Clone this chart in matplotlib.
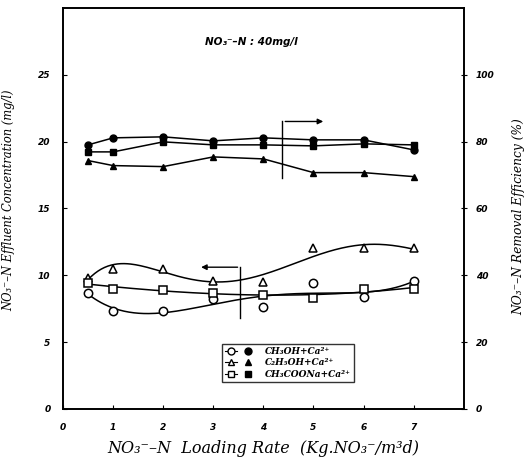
import numpy as np
import matplotlib.pyplot as plt
from matplotlib.lines import Line2D
from matplotlib.legend_handler import HandlerTuple

# loading rate (Kg.NO3-/m3 d)
rate = np.array([0.5, 1, 2, 3, 4, 5, 6, 7])

# effluent NO3--N (mg/l), left axis
eff_meoh = np.array([8.7, 7.3, 7.3, 8.2, 7.6, 9.4, 8.4, 9.6])
eff_etoh = np.array([9.8, 10.5, 10.5, 9.6, 9.5, 12.0, 12.0, 12.0])
eff_acet = np.array([9.4, 9.0, 8.9, 8.7, 8.5, 8.3, 9.0, 9.0])

# removal efficiency (%), right axis
rem_meoh = np.array([79.0, 81.1, 81.4, 80.2, 81.1, 80.5, 80.5, 77.5])
rem_etoh = np.array([74.3, 72.8, 72.5, 75.4, 74.8, 70.7, 70.7, 69.5])
rem_acet = np.array([76.9, 76.9, 79.9, 79.0, 79.0, 78.7, 79.3, 79.0])

labels = ["CH\u2083OH+Ca\u00b2\u207a", "C\u2082H\u2085OH+Ca\u00b2\u207a", "CH\u2083COONa+Ca\u00b2\u207a"]
markers = ["o", "^", "s"]

xticks = [0, 1, 2, 3, 4, 5, 6, 7]
lticks = [0, 5, 10, 15, 20, 25]
rticks = [0, 20, 40, 60, 80, 100]

# arrow brackets pointing to the axes used: (x_vert, y_top, y_bottom, x_head)
arrow_right = (4.38, 21.5, 17.3, 5.25)
arrow_left = (3.54, 10.6, 6.8, 2.7)

tickfont = dict(family="DejaVu Sans", style="italic", weight="bold", size=6.5)
labfont = dict(family="DejaVu Serif", style="italic", size=8.3)

fig = plt.figure(figsize=(5.3, 4.61), dpi=100)
ax = fig.add_axes([0.119, 0.113, 0.756, 0.87])
ax2 = ax.twinx()

xs = np.linspace(0.5, 7, 200)
degs = [4, 5, 3]
for y, m, d in zip([eff_meoh, eff_etoh, eff_acet], markers, degs):
    c = np.polyfit(rate, y, d)
    ax.plot(xs, np.polyval(c, xs), color="black", lw=1.1)
    ax.plot(rate, y, ls="none", marker=m, ms=6, mfc="white", mec="black", mew=1.1)

for y, m in zip([rem_meoh, rem_etoh, rem_acet], markers):
    ax2.plot(rate, y, color="black", lw=1.1, marker=m, ms=5, mfc="black", mec="black")

ax.set_xlim(0, 8)
ax.set_ylim(0, 30)
ax2.set_ylim(0, 120)
ax.set_xticks(xticks)
ax.set_yticks(lticks)
ax2.set_yticks(rticks)
ax.set_xticklabels([str(t) for t in xticks], fontdict=tickfont)
ax.set_yticklabels([str(t) for t in lticks], fontdict=tickfont)
ax2.set_yticklabels([str(t) for t in rticks], fontdict=tickfont)
ax.tick_params(axis="x", direction="in", length=3, pad=10)
ax.tick_params(axis="y", direction="in", length=3, pad=9)
ax2.tick_params(axis="y", direction="inout", length=5, pad=6)
for a in (ax, ax2):
    for s in a.spines.values():
        s.set_linewidth(1.2)

ax.set_xlabel("NO\u2083\u207b\u2013N  Loading Rate  (Kg.NO\u2083\u207b/m\u00b3d)", fontdict=dict(labfont, size=11.5), labelpad=6)
ax.set_ylabel("NO\u2083\u207b\u2013N Effluent Concentration (mg/l)", fontdict=labfont)
ax2.set_ylabel("NO\u2083\u207b\u2013N Removal Efficiency (%)", fontdict=dict(labfont, size=8.8), rotation=90)
ax.yaxis.set_label_coords(-0.12, 0.52)
ax2.yaxis.set_label_coords(1.122, 0.48)

ax.text(0.47, 0.915, "NO\u2083\u207b\u2013N : 40mg/l", transform=ax.transAxes, ha="center", va="center",
        family="DejaVu Sans", style="italic", weight="bold", size=7.5)

xv, yt, yb, xh = arrow_right
ax.plot([xv, xv], [yb, yt], color="black", lw=1)
ax.annotate("", xy=(xh, yt), xytext=(xv, yt), arrowprops=dict(arrowstyle="-|>", color="black", lw=1, mutation_scale=8))
xv, yt, yb, xh = arrow_left
ax.plot([xv, xv], [yb, yt], color="black", lw=1)
ax.annotate("", xy=(xh, yt), xytext=(xv, yt), arrowprops=dict(arrowstyle="-|>", color="black", lw=1, mutation_scale=8))

handles = []
for m in markers:
    h_open = Line2D([], [], marker=m, ls="-", color="black", lw=0.8, ms=5, mfc="white", markevery=[0])
    h_fill = Line2D([], [], marker=m, ls="none", color="black", ms=5, mfc="black")
    handles.append((h_open, h_fill))
leg = ax.legend(handles, labels, handler_map={tuple: HandlerTuple(ndivide=None, pad=0.6)},
                loc="lower left", bbox_to_anchor=(0.385, 0.055), frameon=True, fancybox=False,
                edgecolor="black", handlelength=3.2, handletextpad=1.2, borderpad=0.35, labelspacing=0.3,
                prop=dict(family="DejaVu Serif", style="italic", weight="bold", size=6.5))
leg.get_frame().set_linewidth(1.0)

fig.savefig("out.png", dpi=100)
